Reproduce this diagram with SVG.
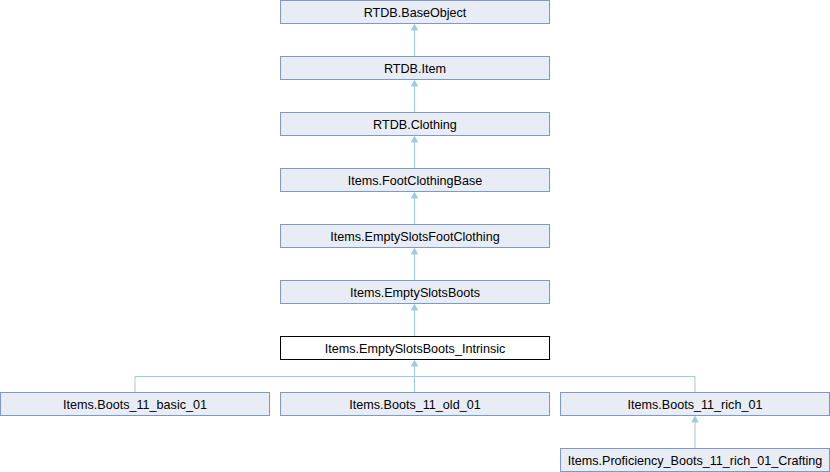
<svg xmlns="http://www.w3.org/2000/svg" width="830" height="472" viewBox="0 0 830 472">
<style>
.n rect{fill:#e8ecf5;stroke:#7f97c9;stroke-width:1}
.n.cur rect{fill:#ffffff;stroke:#000000}
.n text{font-family:"Liberation Sans",Arial,sans-serif;font-size:12.6px;fill:#000;text-anchor:middle}
.e line,.e polyline{stroke:#9cc9e8;stroke-width:1;fill:none}
.e polygon{fill:#9cc9e8;stroke:#9cc9e8;stroke-width:1}
</style>
<rect width="830" height="472" fill="#ffffff"/>
<g id="edges" class="e">
<line x1="414.5" y1="30" x2="414.5" y2="56.5"/><polygon points="414.5,24.5 411.5,30 417.5,30"/>
<line x1="414.5" y1="86" x2="414.5" y2="112.5"/><polygon points="414.5,80.5 411.5,86 417.5,86"/>
<line x1="414.5" y1="142" x2="414.5" y2="168.5"/><polygon points="414.5,136.5 411.5,142 417.5,142"/>
<line x1="414.5" y1="198" x2="414.5" y2="224.5"/><polygon points="414.5,192.5 411.5,198 417.5,198"/>
<line x1="414.5" y1="254" x2="414.5" y2="280.5"/><polygon points="414.5,248.5 411.5,254 417.5,254"/>
<line x1="414.5" y1="310" x2="414.5" y2="336.5"/><polygon points="414.5,304.5 411.5,310 417.5,310"/>
<polygon points="414.5,360.5 411.5,366 417.5,366"/>
<line x1="414.5" y1="366" x2="414.5" y2="392.5"/>
<polyline points="135,392.5 135,376.5 695,376.5 695,392.5"/>
<line x1="695" y1="422" x2="695" y2="448.5"/><polygon points="695,416.5 692,422 698,422"/>
</g>
<g id="n_baseobject" class="n"><rect x="280.5" y="0.5" width="269" height="23"/><text x="415" y="16.5">RTDB.BaseObject</text></g>
<g id="n_item" class="n"><rect x="280.5" y="56.5" width="269" height="23"/><text x="415" y="72.5">RTDB.Item</text></g>
<g id="n_clothing" class="n"><rect x="280.5" y="112.5" width="269" height="23"/><text x="415" y="128.5">RTDB.Clothing</text></g>
<g id="n_footclothingbase" class="n"><rect x="280.5" y="168.5" width="269" height="23"/><text x="415" y="184.5">Items.FootClothingBase</text></g>
<g id="n_emptyslotsfootclothing" class="n"><rect x="280.5" y="224.5" width="269" height="23"/><text x="415" y="240.5">Items.EmptySlotsFootClothing</text></g>
<g id="n_emptyslotsboots" class="n"><rect x="280.5" y="280.5" width="269" height="23"/><text x="415" y="296.5">Items.EmptySlotsBoots</text></g>
<g id="n_intrinsic" class="n cur"><rect x="280.5" y="336.5" width="269" height="23"/><text x="415" y="352.5">Items.EmptySlotsBoots_Intrinsic</text></g>
<g id="n_basic" class="n"><rect x="0.5" y="392.5" width="269" height="23"/><text x="135" y="408.5">Items.Boots_11_basic_01</text></g>
<g id="n_old" class="n"><rect x="280.5" y="392.5" width="269" height="23"/><text x="415" y="408.5">Items.Boots_11_old_01</text></g>
<g id="n_rich" class="n"><rect x="560.5" y="392.5" width="269" height="23"/><text x="695" y="408.5">Items.Boots_11_rich_01</text></g>
<g id="n_proficiency" class="n"><rect x="560.5" y="448.5" width="269" height="23"/><text x="695" y="464.5">Items.Proficiency_Boots_11_rich_01_Crafting</text></g>
</svg>
